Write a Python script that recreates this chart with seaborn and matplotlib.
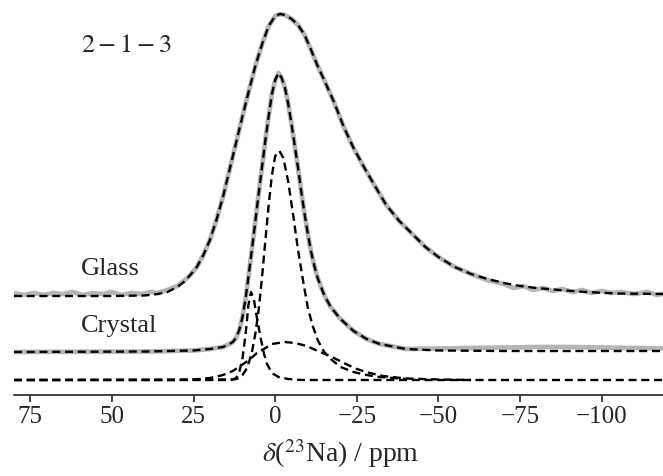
import numpy as np
import pandas as pd
import matplotlib
matplotlib.use("Agg")
import matplotlib.pyplot as plt
import seaborn as sns

# ---------------- data ----------------
# Glass: fit (dashed) and experiment (grey), intensity above its own baseline
glass_fit_ppm = [80, 50, 40, 36, 33, 30, 28, 26, 24, 22, 20, 18, 16, 14, 12, 10, 8, 6, 4, 2, 0,
                 -1.5, -3, -5, -7, -9, -11, -13, -15, -18, -21, -24, -27, -30, -34, -38, -42,
                 -46, -50, -55, -60, -65, -70, -75, -80, -87, -95, -105, -120]
glass_fit_int = [0, 0, 0.5, 2, 4, 9, 14, 21, 29, 41, 56, 76, 99, 126, 153, 180, 206, 231, 252, 270, 280,
                 282, 281, 277, 271, 261, 246, 230, 216, 194, 169, 148, 130, 113, 91, 75, 62,
                 49, 39, 29, 22, 17, 13, 10, 8, 6, 4, 2.5, 2]

glass_exp_ppm = [80, 77, 74, 71, 68, 65, 62, 59, 56, 53, 50, 47, 44, 41, 38, 36, 33, 30, 28, 26, 24,
                 22, 20, 18, 16, 14, 12, 10, 8, 6, 4, 2, 0, -1.5, -3, -5, -7, -9, -11, -13, -15,
                 -18, -21, -24, -27, -30, -34, -38, -42, -46, -50, -55, -60, -65, -70, -73, -76,
                 -79, -82, -85, -88, -91, -94, -97, -100, -103, -106, -110, -114, -117, -120]
glass_exp_int = [3, 1, 3, 1, 3, 2, 4, 1, 3, 2, 4, 1, 3, 2, 4, 3, 6, 10, 15, 21, 29,
                 41, 56, 76, 99, 126, 153, 180, 206, 231, 252, 270, 280, 282, 281, 277, 271, 261, 246, 230, 216,
                 194, 169, 148, 130, 113, 91, 75, 62, 49, 39, 29, 22, 16, 12, 8, 10,
                 6, 8, 5, 7, 4, 6, 3, 5, 3, 4, 2, 4, 1, 3]

# Crystal: total fit and experiment
cryst_fit_ppm = [80, 40, 25, 20, 16, 14, 13, 12, 11, 10, 9, 8, 7, 6, 5, 4, 3, 2, 1, 0, -1,
                 -2, -3, -4, -5, -6, -7, -8, -9, -10, -11, -12, -13, -15, -17, -20, -24,
                 -28, -32, -40, -50, -70, -120]
cryst_fit_int = [0, 0.5, 1.5, 3, 5, 8, 10, 14, 22, 35, 55, 80, 106, 133, 160, 186, 212, 236, 258, 272, 279,
                 274, 264, 248, 228, 206, 184, 160, 138, 118, 100, 86, 74, 57, 45, 33, 21,
                 13, 8, 3, 1.5, 1, 1]
cryst_exp_ppm = cryst_fit_ppm[:-3] + [-60, -70, -80, -90, -100, -110, -120]
cryst_exp_int = cryst_fit_int[:-3] + [4, 4.5, 5, 5, 4.5, 4, 3.5]

# Fit components
comp1_ppm = [80, 14, 12, 11, 10, 9, 8, 7, 6, 5, 4, 3, 2, 1, 0, -1.3, -2.5, -4, -5.5, -7,
             -8.5, -10, -11.5, -13, -15, -17, -20, -24, -28, -32, -40]
comp1_int = [0, 0, 1, 2, 5, 10, 18, 30, 48, 72, 104, 140, 175, 205, 224, 229, 222, 198, 165, 130,
             100, 72, 54, 40, 28, 21, 13, 8, 5, 3, 1]
comp2_ppm = [80, 13, 12, 11, 10, 9, 8.2, 7.4, 6.5, 5.5, 4.5, 3.5, 2.5, 1, -1, -4, -8, -120]
comp2_int = [0, 0.5, 2, 8, 22, 48, 75, 88, 80, 60, 43, 27, 16, 7, 3, 1, 0, 0]
comp3_ppm = [80, 30, 25, 20, 16, 13, 10.7, 8, 5.6, 3, 1, -3, -6, -9.7, -13, -16.8, -21, -25,
             -29, -33, -40, -50, -60]
comp3_int = [0, 0, 0.5, 2, 5, 9, 14, 20, 27, 32, 36, 38, 37, 34, 29, 24, 17, 11,
             7, 4, 1.5, 0.5, 0]

labels = {"title": r"$2-1-3$", "glass": "Glass", "crystal": "Crystal"}
xticks = [75, 50, 25, 0, -25, -50, -75, -100]

# ---------------- style ----------------
sns.set_theme(style="white")
plt.rcParams["font.family"] = ["Liberation Serif", "DejaVu Serif"]
plt.rcParams["mathtext.fontset"] = "stix"

fig = plt.figure(figsize=(6.63, 4.77), dpi=100)
ax = fig.add_axes([14 / 663, 81 / 477, (667 - 14) / 663, 396 / 477])

off_comp, off_cryst, off_glass = 15, 43, 99
grey = "#b5b5b5"
dash = (0, (3.4, 2.0))

def draw(xs, ys, off, color, lw, ls="-"):
    df = pd.DataFrame({"ppm": xs, "I": np.asarray(ys, float) + off})
    sns.lineplot(data=df, x="ppm", y="I", ax=ax, color=color, lw=lw, linestyle=ls,
                 sort=False, estimator=None)

draw(glass_exp_ppm, glass_exp_int, off_glass, grey, 3.4)
draw(glass_fit_ppm, glass_fit_int, off_glass, "black", 1.7, dash)
draw(cryst_exp_ppm, cryst_exp_int, off_cryst, grey, 3.4)
draw(cryst_fit_ppm, cryst_fit_int, off_cryst, "black", 1.7, dash)
for xs, ys in [(comp3_ppm, comp3_int), (comp1_ppm, comp1_int), (comp2_ppm, comp2_int)]:
    draw(xs, ys, off_comp, "black", 1.7, dash)

ax.set_xlim(80, -120)
ax.set_ylim(0, 396)
ax.set_xticks(xticks)
ax.set_xticklabels([f"{t:d}".replace("-", "\u2212") for t in xticks])
ax.set_yticks([])
ax.set_ylabel("")
ax.set_xlabel(r"$\delta$($^{23}$Na) / ppm", fontsize=20, labelpad=7)
for s in ["left", "right", "top"]:
    ax.spines[s].set_visible(False)
ax.spines["bottom"].set_color("#222222")
ax.spines["bottom"].set_linewidth(1.2)
ax.tick_params(axis="x", direction="out", length=5, width=1.2, color="#222222",
               labelsize=18, pad=2, bottom=True)

ax.text(59.5, 350, labels["title"], fontsize=19, ha="left", va="center")
ax.text(59.5, 127, labels["glass"], fontsize=19, ha="left", va="center")
ax.text(59.5, 70, labels["crystal"], fontsize=19, ha="left", va="center")

fig.savefig("out.png", dpi=100)
